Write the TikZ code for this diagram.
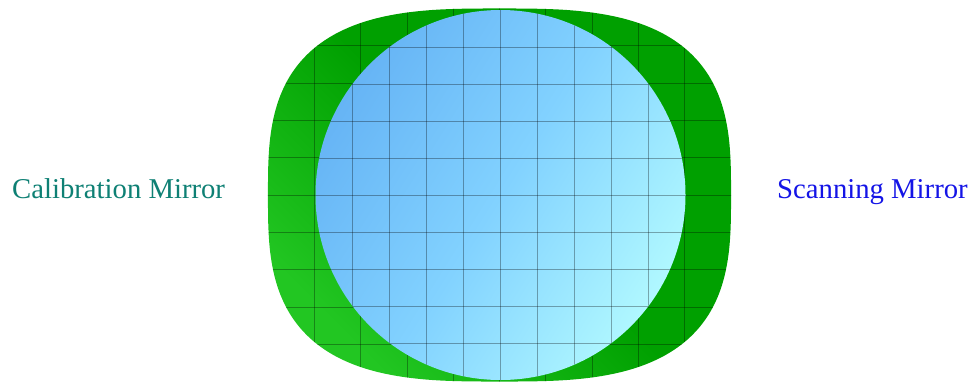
\documentclass[tikz,border=0pt]{standalone}
\usepackage{fontspec}
\setmainfont{Liberation Serif}
\definecolor{calteal}{HTML}{0E8074}
\definecolor{scanblue}{HTML}{1414E6}
\definecolor{mgreen}{HTML}{00A000}
\definecolor{mgreenlight}{HTML}{22C622}
\definecolor{cblueA}{HTML}{66B4F5}
\definecolor{cblueB}{HTML}{82D2FF}
\definecolor{cblueC}{HTML}{B0F8FF}
\begin{document}
\begin{tikzpicture}[x=1pt,y=-1pt,
  gridline/.style={black,opacity=0.32,line width=0.8pt},
  mirrorlabel/.style={font=\fontsize{28.7}{32}\selectfont, anchor=base west, inner sep=0pt}]
\useasboundingbox (0,0) rectangle (974,383);
\def\squircle{plot[domain=1:361,samples=181,smooth] ({499.5+231.5*(cos(\x)<0?-1:1)*abs(cos(\x))^(2/3)},{195+186.5*(sin(\x)<0?-1:1)*abs(sin(\x))^(2/3)}) -- cycle}
% green squircle
\shade[left color=mgreenlight, right color=mgreen, middle color=mgreen, shading angle=135] \squircle;
\begin{scope}
  \clip \squircle;
  \foreach \i in {1,...,9} {
    \draw[gridline] ({268+46.3*\i},0) -- ({268+46.3*\i},383);
    \draw[gridline] (250,{8.5+37.3*\i}) -- (750,{8.5+37.3*\i});
  }
\end{scope}
% blue circle
\shade[left color=cblueA, right color=cblueC, middle color=cblueB, shading angle=58] (500.5,195) circle[radius=185];
\begin{scope}
  \clip (500.5,195) circle[radius=185];
  \foreach \i in {1,...,9} {
    \draw[gridline] ({315.5+37*\i},0) -- ({315.5+37*\i},383);
    \draw[gridline] (300,{10+37*\i}) -- (700,{10+37*\i});
  }
\end{scope}
\node[mirrorlabel, text=calteal] (cal) at (12,198) {Calibration Mirror};
\node[mirrorlabel, text=scanblue] (scan) at (777,198) {Scanning Mirror};
\end{tikzpicture}
\end{document}
